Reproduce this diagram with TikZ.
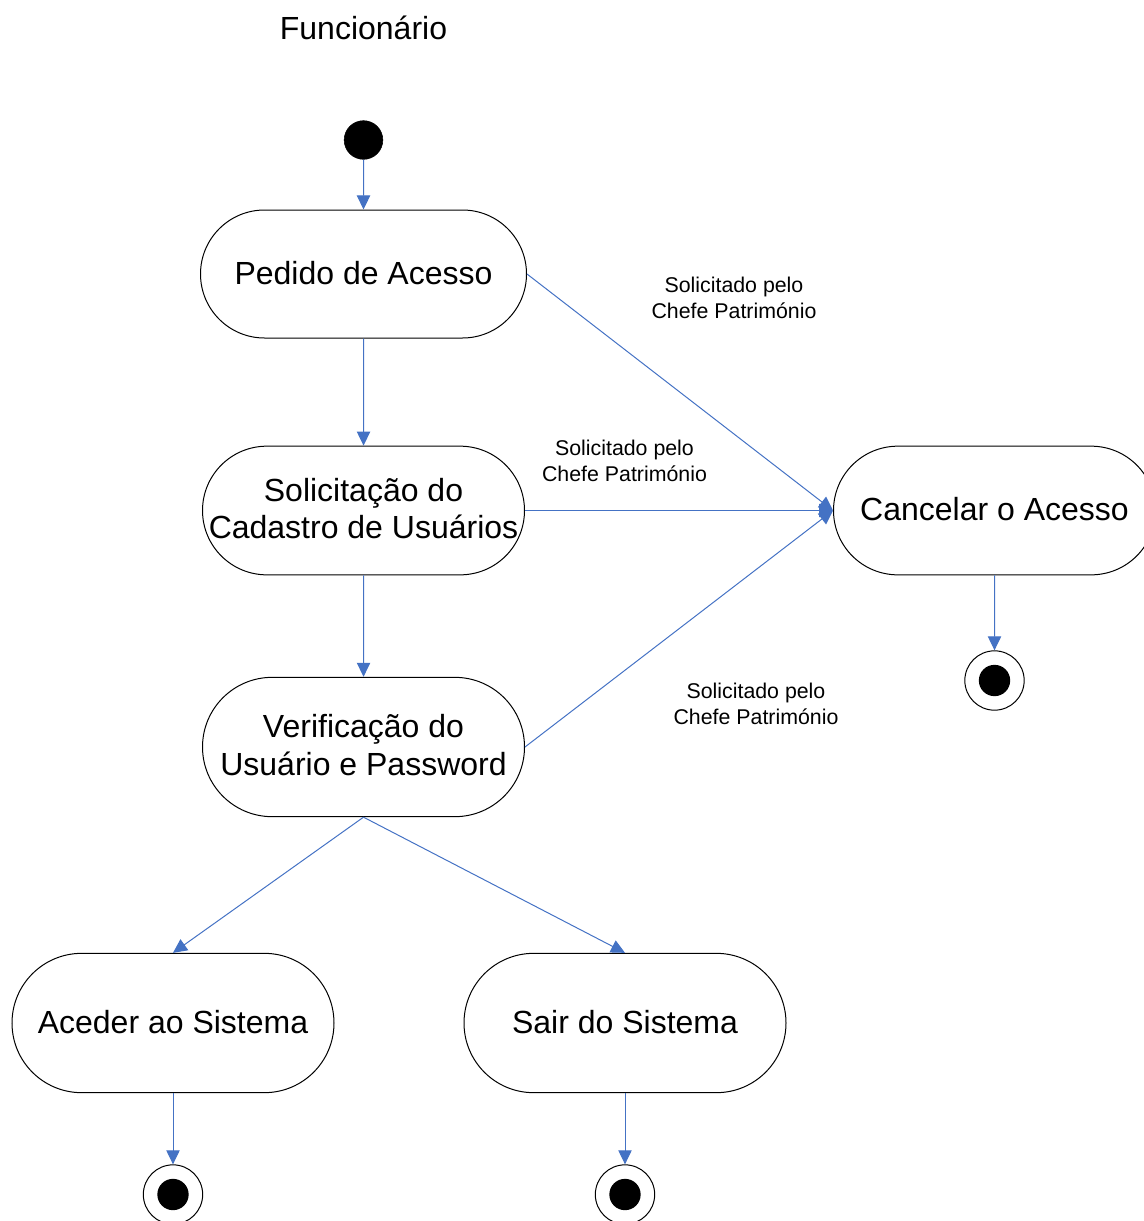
\documentclass[tikz,border=0pt]{standalone}
\usepackage{fontspec}
\setmainfont{Liberation Sans}
\usetikzlibrary{arrows.meta,shapes.misc}
\definecolor{conn}{RGB}{68,114,196}
\tikzset{
 act/.style={draw=black,line width=0.75pt,rounded rectangle,rounded rectangle arc length=180,align=center,font=\fontsize{24}{28.2}\selectfont,inner sep=0pt},
 flow/.style={draw=conn,line width=0.75pt,-{Triangle[length=10.5pt,width=10pt,fill=conn]}},
 lab/.style={align=center,font=\fontsize{16}{19.5}\selectfont,inner sep=0pt},
 enddot/.style={circle,fill=black,minimum size=23.5pt,inner sep=0pt},
 endring/.style={circle,draw=black,line width=0.75pt,minimum size=44.5pt,inner sep=0pt},
}
\begin{document}
\begin{tikzpicture}[x=0.75pt,y=-0.75pt]
\useasboundingbox (0,0) rectangle (1143,1221);
\node[font=\fontsize{24}{28}\selectfont,inner sep=0pt] (title) at (363.5,28) {Funcionário};
\node[circle,fill=black,draw=black,minimum size=29pt,inner sep=0pt] (s) at (363.5,140) {};
\node[act,text depth=1.7pt,minimum width=244.5pt,minimum height=96pt] (a) at (363.5,274) {Pedido de Acesso};
\node[act,text depth=3pt,minimum width=241.5pt,minimum height=96.5pt] (b) at (363.5,510.5) {Solicitação do\\\makebox[225pt]{Cadastro de Usuários}};
\node[act,text depth=3pt,minimum width=241.5pt,minimum height=104.5pt] (c) at (363.5,747) {Verificação do\\[0.6pt]Usuário e Password};
\node[act,text depth=1.7pt,minimum width=241.5pt,minimum height=96.5pt] (d) at (994.5,510.5) {Cancelar o Acesso};
\node[act,text depth=1.7pt,minimum width=241.5pt,minimum height=104.5pt] (e) at (173,1023) {Aceder ao Sistema};
\node[act,text depth=1.7pt,minimum width=241.5pt,minimum height=104.5pt] (f) at (625,1023) {Sair do Sistema};
\node[endring] (e1) at (994.5,680.5) {};
\node[enddot] (e1d) at (994.5,680.5) {};
\node[endring] (e2) at (173,1194.5) {};
\node[enddot] (e2d) at (173,1194.5) {};
\node[endring] (e3) at (625,1194.5) {};
\node[enddot] (e3d) at (625,1194.5) {};
\coordinate (dw) at (833,510.5);
\draw[flow] (s) -- (a);
\draw[flow] (a) -- (b);
\draw[flow] (b) -- (c);
\draw[flow] (a.east) -- (dw);
\draw[flow] (b.east) -- (dw);
\draw[flow] (c.east) -- (dw);
\draw[flow] (c.south) -- (e.north);
\draw[flow] (c.south) -- (f.north);
\draw[flow] (d) -- (e1);
\draw[flow] (e) -- (e2);
\draw[flow] (f) -- (e3);
\node[lab] (l1) at (734,297.5) {Solicitado pelo\\Chefe Património};
\node[lab] (l2) at (624.5,460.5) {Solicitado pelo\\Chefe Património};
\node[lab] (l3) at (756,703.5) {Solicitado pelo\\Chefe Património};
\end{tikzpicture}
\end{document}
